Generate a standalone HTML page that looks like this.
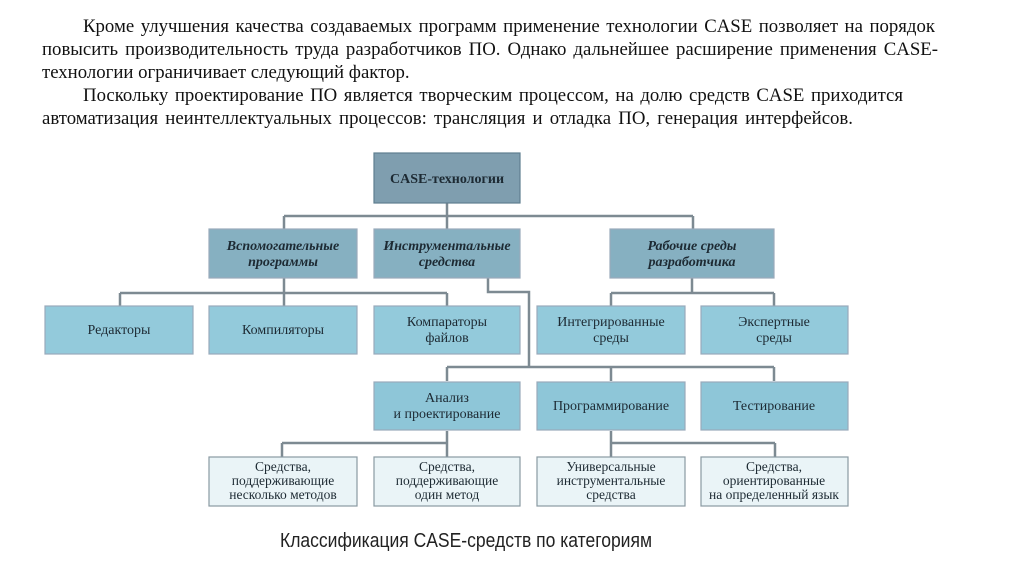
<!DOCTYPE html>
<html><head><meta charset="utf-8"><style>
body{margin:0;background:#fff;width:1024px;height:574px;overflow:hidden;position:relative}
.l{position:absolute;font-family:"Liberation Serif",serif;font-size:18.8px;line-height:23px;color:#111;white-space:nowrap;text-align:justify;text-align-last:justify}
svg{position:absolute;left:0;top:0}
</style></head><body>
<div class="l" style="top:15px;left:83px;width:852px">Кроме улучшения качества создаваемых программ применение технологии CASE позволяет на порядок</div>
<div class="l" style="top:38px;left:42px;width:896px">повысить производительность труда разработчиков ПО. Однако дальнейшее расширение применения CASE-</div>
<div class="l" style="top:61px;left:42px;text-align-last:left">технологии ограничивает следующий фактор.</div>
<div class="l" style="top:84px;left:83px;width:820px">Поскольку проектирование ПО является творческим процессом, на долю средств CASE приходится</div>
<div class="l" style="top:107px;left:42px;width:811px">автоматизация неинтеллектуальных процессов: трансляция и отладка ПО, генерация интерфейсов.</div>
<svg width="1024" height="574" font-family="Liberation Serif, serif" font-size="14" fill="#1d2a33" text-anchor="middle">
<g stroke="#7d8a92" stroke-width="2.5" fill="none">
<path d="M447 203V216M284 216H693M284 216V229M447 216V229M693 216V229"/>
<path d="M284 278V293M120 293H447M120 293V306M284 293V306M447 293V306"/>
<path d="M488 278V292H529V367H447M447 367H774M447 367V381M611 367V381M774 367V381"/>
<path d="M692 278V293M611 293H774M611 293V306M774 293V306"/>
<path d="M447 431V443M282 443H447M282 443V457M447 443V457"/>
<path d="M611 431V443M611 443H775M611 443V457M775 443V457"/>
</g>
<g stroke="#9ab" stroke-width="1.2">
<rect x="374" y="153" width="146" height="50" fill="#7f9eaf" stroke="#5f7e8f"/>
<rect x="209" y="229" width="148" height="49" fill="#86b0c1"/>
<rect x="374" y="229" width="146" height="49" fill="#86b0c1"/>
<rect x="610" y="229" width="164" height="49" fill="#86b0c1"/>
<rect x="45" y="306" width="148" height="48" fill="#93cadb"/>
<rect x="209" y="306" width="148" height="48" fill="#93cadb"/>
<rect x="374" y="306" width="146" height="48" fill="#93cadb"/>
<rect x="537" y="306" width="148" height="48" fill="#93cadb"/>
<rect x="701" y="306" width="147" height="48" fill="#93cadb"/>
<rect x="374" y="382" width="146" height="48" fill="#8ec6d8"/>
<rect x="537" y="382" width="148" height="48" fill="#8ec6d8"/>
<rect x="701" y="382" width="147" height="48" fill="#8ec6d8"/>
<rect x="209" y="457" width="148" height="49" fill="#eaf4f7" stroke="#8a9aa2"/>
<rect x="374" y="457" width="146" height="49" fill="#eaf4f7" stroke="#8a9aa2"/>
<rect x="537" y="457" width="148" height="49" fill="#eaf4f7" stroke="#8a9aa2"/>
<rect x="701" y="457" width="147" height="49" fill="#eaf4f7" stroke="#8a9aa2"/>
</g>
<text x="447" y="183" font-weight="bold">CASE-технологии</text>
<g font-style="italic" font-weight="bold">
<text x="283" y="250">Вспомогательные</text><text x="283" y="266">программы</text>
<text x="447" y="250">Инструментальные</text><text x="447" y="266">средства</text>
<text x="692" y="250">Рабочие среды</text><text x="692" y="266">разработчика</text>
</g>
<text x="119" y="334">Редакторы</text>
<text x="283" y="334">Компиляторы</text>
<text x="447" y="326">Компараторы</text><text x="447" y="342">файлов</text>
<text x="611" y="326">Интегрированные</text><text x="611" y="342">среды</text>
<text x="774" y="326">Экспертные</text><text x="774" y="342">среды</text>
<text x="447" y="402">Анализ</text><text x="447" y="418">и проектирование</text>
<text x="611" y="410">Программирование</text>
<text x="774" y="410">Тестирование</text>
<g font-size="13.5">
<text x="283" y="471">Средства,</text><text x="283" y="485">поддерживающие</text><text x="283" y="499">несколько методов</text>
<text x="447" y="471">Средства,</text><text x="447" y="485">поддерживающие</text><text x="447" y="499">один метод</text>
<text x="611" y="471">Универсальные</text><text x="611" y="485">инструментальные</text><text x="611" y="499">средства</text>
<text x="774" y="471">Средства,</text><text x="774" y="485">ориентированные</text><text x="774" y="499">на определенный язык</text>
</g>
<text x="466" y="547" font-family="Liberation Sans, sans-serif" font-size="20" fill="#222" textLength="372" lengthAdjust="spacingAndGlyphs">Классификация CASE-средств по категориям</text>
</svg>
</body></html>
